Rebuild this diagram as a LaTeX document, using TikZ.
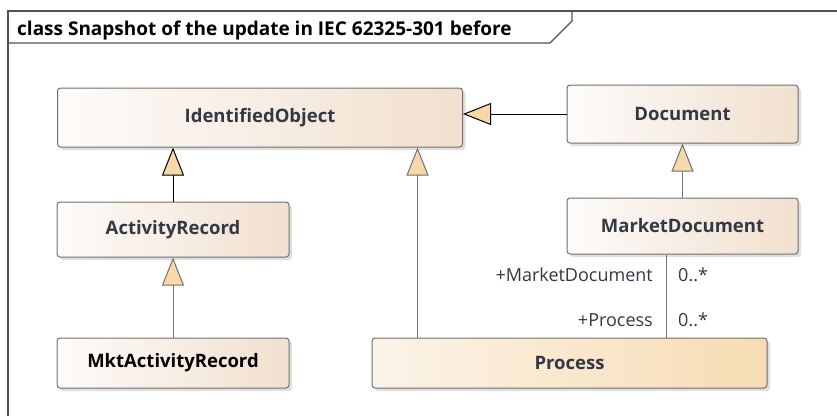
\documentclass[tikz,border=0pt]{standalone}
\usepackage{fontspec}
\setmainfont{Open Sans}
\usetikzlibrary{arrows.meta,shadows}
\definecolor{boxl}{HTML}{FDFBF9}
\definecolor{boxr}{HTML}{F1E0CF}
\definecolor{procl}{HTML}{FBF3E9}
\definecolor{procr}{HTML}{F7DCB2}
\definecolor{edge}{HTML}{707070}
\definecolor{tri}{HTML}{F8D8A8}
\definecolor{txt}{HTML}{333845}
\definecolor{frame}{HTML}{505050}
\tikzset{
  cls/.style={draw=edge, line width=1pt, rounded corners=3pt, left color=boxl, right color=boxr,
    font=\fontsize{18.5}{21}\selectfont\bfseries, text=txt, inner sep=0pt,
    drop shadow={shadow xshift=3pt, shadow yshift=-3pt, opacity=0.25, fill=gray}},
  gen/.style={-{Triangle[width=22pt,length=28pt,fill=tri]}, line width=1pt},
  lbl/.style={font=\fontsize{18}{21}\selectfont, text=txt, inner sep=0pt},
}
\begin{document}
\begin{tikzpicture}[x=1pt,y=-1pt]
\useasboundingbox (0,0) rectangle (837,416);
% frame
\draw[frame, line width=1.3pt] (8,416) -- (8,11) -- (837,11);
\draw[frame, line width=1.3pt] (8,43) -- (550,43) -- (572,21) -- (572,11);
\node[anchor=base west, font=\fontsize{19}{22}\selectfont\bfseries, inner sep=0pt] (title) at (17,35) {class Snapshot of the update in IEC 62325-301 before};
% classes
\node[cls, minimum width=405pt, minimum height=59pt] (io) at (260,117.5) {IdentifiedObject};
\node[cls, minimum width=231pt, minimum height=58pt] (doc) at (682.5,114) {Document};
\node[cls, minimum width=231pt, minimum height=56pt] (md) at (682.5,226) {MarketDocument};
\node[cls, minimum width=232pt, minimum height=55pt] (ar) at (173,229.5) {ActivityRecord};
\node[cls, minimum width=232pt, minimum height=50pt, text=black] (mar) at (173,363) {MktActivityRecord};
\node[cls, minimum width=395pt, minimum height=50pt, left color=procl, right color=procr] (proc) at (569.5,363) {Process};
% generalizations
\draw[gen, black] (ar.north) -- (ar.north |- io.south);
\draw[gen, edge] ([xshift=46pt]proc.north west) -- ([xshift=46pt]proc.north west |- io.south);
\draw[gen, black] (doc.west) -- (doc.west -| io.east);
\draw[gen, edge] (md.north) -- (doc.south);
\draw[gen, edge] (mar.north) -- (ar.south);
% association
\draw[edge, line width=1pt] ([xshift=-16.5pt]md.south) -- ([xshift=-16.5pt]md.south |- proc.north);
\node[lbl, anchor=east] (r1) at (653,275) {+MarketDocument};
\node[lbl, anchor=west] (m1) at (678,275) {0..*};
\node[lbl, anchor=east] (r2) at (653,320) {+Process};
\node[lbl, anchor=west] (m2) at (678,320) {0..*};
\end{tikzpicture}
\end{document}
